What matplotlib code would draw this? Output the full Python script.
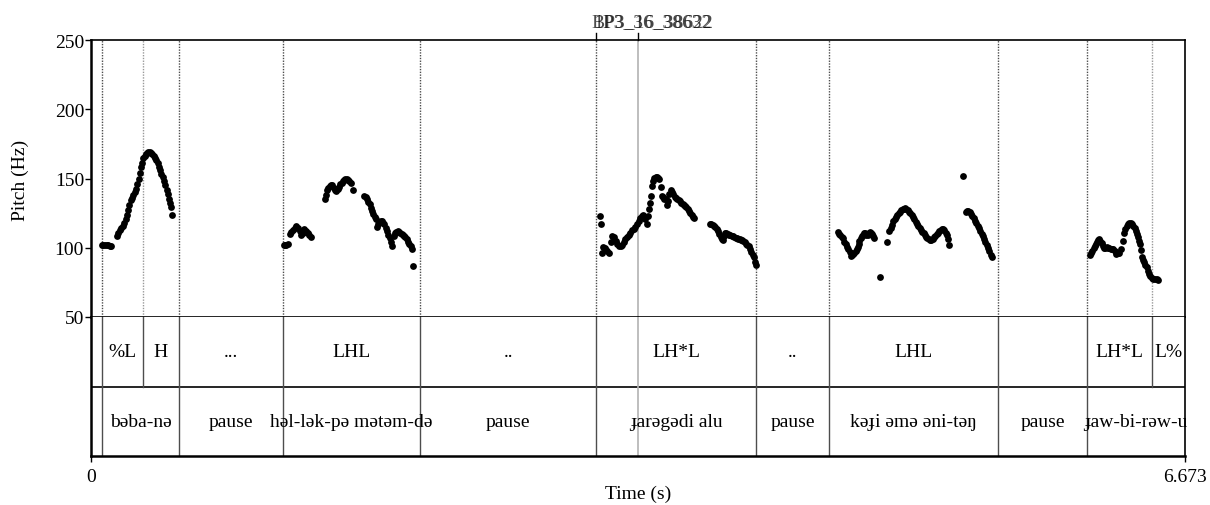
import matplotlib.pyplot as plt

plt.rcParams['font.family'] = ['Liberation Serif', 'DejaVu Serif']

t_end = 6.673

# pitch track (time in s, F0 in Hz), one pair per phrase
baba_t = [0.065, 0.075, 0.085, 0.095, 0.105, 0.115, 0.122,
          0.157, 0.165, 0.175, 0.185, 0.195, 0.203, 0.211, 0.218, 0.226, 0.234, 0.242,
          0.250, 0.258, 0.266, 0.274, 0.282, 0.290, 0.298, 0.306, 0.313, 0.320, 0.327,
          0.334, 0.342, 0.350, 0.358, 0.366, 0.374, 0.382, 0.390, 0.398, 0.406, 0.414,
          0.422, 0.430, 0.438, 0.446, 0.454, 0.462, 0.470, 0.477, 0.483, 0.488, 0.496]
baba_hz = [102, 102, 102, 102, 102, 101.5, 101.5,
           108.5, 111, 113, 114.5, 116, 118, 121, 124, 127, 131, 134.5,
           136, 138, 140, 142.5, 146, 150, 154, 158, 161.5, 164.5, 166.5,
           167.5, 168.5, 169, 169, 168.5, 167.5, 166.5, 165, 163, 161, 158.5,
           156, 153.5, 151, 148, 145, 142, 139, 135.5, 132.5, 129.5, 124]

hallak_t = [1.175, 1.183, 1.191, 1.199,
            1.212, 1.222, 1.232, 1.242, 1.252, 1.262, 1.272, 1.282, 1.292, 1.302, 1.312,
            1.322, 1.332, 1.340,
            1.425, 1.432, 1.440, 1.448, 1.456, 1.464, 1.472, 1.480, 1.488, 1.496, 1.504,
            1.512, 1.520, 1.528, 1.536, 1.544, 1.552, 1.560, 1.568, 1.576, 1.584, 1.598,
            1.667, 1.675, 1.683, 1.691, 1.699, 1.707, 1.715, 1.723, 1.731, 1.737,
            1.742, 1.750, 1.758, 1.766, 1.774, 1.782, 1.790, 1.798, 1.806, 1.814, 1.822,
            1.830, 1.838,
            1.846, 1.854, 1.862, 1.870, 1.878, 1.886, 1.894, 1.902, 1.910, 1.918, 1.926,
            1.934, 1.942, 1.950, 1.958, 1.966]
hallak_hz = [102, 102, 102, 102.5,
             110, 111.5, 113, 114.5, 116, 114, 112, 109, 111, 113.5, 112,
             110.5, 109, 107.5,
             135, 138, 141.5, 143.5, 144.5, 145.5, 145, 143.5, 142, 141.2, 142.5,
             144, 146, 147, 148.2, 149, 149.6, 149.6, 149, 148, 146.5, 141.7,
             137.6, 136.5, 135, 133, 131.5, 129, 126.5, 124.5, 122.5, 121,
             115.2, 117, 118.5, 119.5, 119, 118, 117, 114.5, 112, 109.5, 107,
             104, 101.5,
             108.7, 110.5, 111.5, 112, 111.5, 111, 110, 109.5, 108.7, 107.5, 106,
             104.5, 103, 101, 99, 87]

jaragadi_t = [3.105, 3.109,
              3.115, 3.125, 3.133, 3.141, 3.150, 3.160, 3.170, 3.180, 3.190, 3.200,
              3.210, 3.220, 3.230, 3.240, 3.250, 3.260, 3.270, 3.280, 3.290, 3.300,
              3.310, 3.320, 3.330, 3.340, 3.350, 3.360, 3.370, 3.380, 3.390, 3.398,
              3.404, 3.410, 3.414, 3.420, 3.428, 3.436, 3.444, 3.452, 3.460, 3.467,
              3.476, 3.482, 3.490, 3.498, 3.506, 3.514, 3.520, 3.528, 3.536, 3.544,
              3.552, 3.560, 3.568, 3.576, 3.584, 3.592, 3.600, 3.608, 3.616, 3.624,
              3.632, 3.640, 3.648, 3.656, 3.664, 3.672, 3.680,
              3.776, 3.784, 3.792, 3.800, 3.808, 3.816, 3.824, 3.832, 3.840, 3.848,
              3.854, 3.862, 3.868, 3.876, 3.884, 3.892, 3.900, 3.908, 3.916, 3.924,
              3.932, 3.940, 3.948, 3.956, 3.964, 3.972, 3.980, 3.988, 3.996, 4.004,
              4.012, 4.020, 4.028, 4.036, 4.044, 4.050, 4.054]
jaragadi_hz = [122.7, 117.2,
               96, 100.3, 100, 98.5, 97.5, 96.5, 104, 108.7, 107.5, 105,
               103, 101.5, 101, 102, 104, 106, 108, 109.5, 111, 112.5,
               113.5, 115, 117, 119.5, 121.5, 123, 123.6, 120.5, 117.2, 122.7,
               128, 132, 137.6, 144.8, 148.5, 150.5, 151, 151, 150.5, 149.6,
               143.6, 137.1, 136.5, 135.5, 135, 131, 134, 138.8, 141.9, 140.5,
               138.8, 137, 135.7, 135, 134.5, 133.5, 132.5, 131.6, 130.8, 130,
               129.3, 128, 126.3, 125, 123.5, 122.5, 121.3,
               117.2, 117, 116.5, 116, 115, 113.5, 112, 110, 108, 106.5,
               105.8, 108.5, 110.6, 110.3, 110, 109.5, 109, 108.7, 108.2, 107.8,
               107.3, 106.8, 106.3, 106, 105.7, 105.4, 104.7, 104, 103, 102,
               101, 99, 97, 95, 93, 90, 87.5]

kaji_t = [4.555, 4.563, 4.571, 4.579, 4.587, 4.595, 4.603, 4.611, 4.619, 4.627, 4.636,
          4.643, 4.650, 4.657, 4.664, 4.670, 4.677, 4.682, 4.687,
          4.694, 4.701, 4.709, 4.716, 4.723, 4.730, 4.738, 4.745, 4.752, 4.759, 4.766,
          4.772, 4.778,
          4.813, 4.854,
          4.870, 4.878, 4.886, 4.894, 4.902, 4.910, 4.918, 4.926, 4.934, 4.942, 4.950,
          4.958, 4.966, 4.974, 4.982, 4.990, 4.998, 5.006, 5.014, 5.022, 5.030, 5.038,
          5.046, 5.054, 5.062, 5.070, 5.078, 5.086, 5.094, 5.102, 5.110, 5.118, 5.126,
          5.134, 5.142, 5.150, 5.158, 5.166, 5.174, 5.182, 5.190, 5.198, 5.206, 5.214,
          5.220, 5.226, 5.233,
          5.321,
          5.336, 5.344, 5.352, 5.360, 5.368, 5.376, 5.384, 5.392, 5.400, 5.408, 5.416,
          5.424, 5.432, 5.440, 5.448, 5.456, 5.464, 5.472, 5.480, 5.488, 5.494]
kaji_hz = [111.2, 110, 109, 108, 106.8, 104.5, 102.7, 100.5, 99, 96.8, 94.3,
           94.8, 95.5, 96.5, 97.9, 99, 100.3, 102.5, 105.1,
           107, 108.3, 109.5, 110.6, 110.5, 109.5, 109.2, 110.5, 111.6, 110.8, 109.9,
           108.5, 106.8,
           78.7, 103.9,
           112.3, 114.5, 116.5, 119, 120.5, 122, 123.5, 124.8, 126, 127, 127.8,
           128.3, 128.5, 128, 127.2, 126, 124.8, 123.6, 122, 120.5, 118.8, 117.3,
           116, 114.5, 113, 111.6, 110.3, 109, 107.8, 106.8, 106.3, 105.9, 105.8,
           106.5, 107.5, 108.6, 109.8, 111, 112.2, 113, 113.5, 113.2, 112.5, 111,
           109, 106, 102,
           151.6,
           125.6, 126.5, 126.8, 125.8, 124.5, 122.8, 121.2, 119.5, 117.7, 116, 114.2,
           112, 110.2, 108.5, 106.5, 104.5, 102.3, 100, 97.5, 95, 93.1]

jaw_t = [6.094, 6.101, 6.108, 6.115, 6.122, 6.129, 6.136, 6.143, 6.150, 6.157, 6.165,
         6.172, 6.179, 6.187, 6.195, 6.203, 6.211, 6.219, 6.227, 6.236, 6.244, 6.252,
         6.262, 6.272,
         6.284, 6.297, 6.301,
         6.310, 6.318, 6.326, 6.334, 6.342, 6.350, 6.358, 6.366, 6.374, 6.380, 6.386,
         6.392, 6.398, 6.403,
         6.409, 6.416, 6.423, 6.431, 6.440, 6.447, 6.455, 6.462, 6.470, 6.480, 6.490,
         6.500, 6.510]
jaw_hz = [94.8, 96.5, 97.9, 99.5, 101.5, 103, 104, 105.5, 106.3, 105, 103.4,
          101.5, 99.6, 99.8, 100.3, 100, 99.5, 99.3, 99.1, 99.1, 97.5, 95.5,
          96, 96.2,
          99.1, 105.1, 110.6,
          113.5, 115.9, 117.2, 117.9, 117.8, 117.2, 115.9, 114.5, 112.3, 110, 107.5,
          105, 102.7, 98.6,
          93.1, 91.5, 89.5, 87.7, 85.9, 83.5, 81, 79.5, 77.9, 77.6, 77.4,
          77.1, 76.9]

# TextGrid tiers
tone_bounds = [0, 0.065, 0.315, 0.539, 1.171, 2.007, 3.083, 4.056, 4.502, 5.531, 6.077, 6.474, 6.673]
tone_labels = ["", "%L", "H", "...", "LHL", "..", "LH*L", "..", "LHL", "", "LH*L", "L%"]
word_bounds = [0, 0.065, 0.539, 1.171, 2.007, 3.083, 4.056, 4.502, 5.531, 6.077, 6.673]
word_labels = ["", "bəba-nə", "pause", "həl-lək-pə mətəm-də", "pause", "ɟarəgədi alu",
               "pause", "kəɟi əmə əni-təŋ", "pause", "ɟaw-bi-rəw-u"]
cursor_t = 3.335
mark_t = 3.083
top_labels = ["BP3_16_38622", "1P3_36_38632"]

pitch_t = baba_t + hallak_t + jaragadi_t + kaji_t + jaw_t
pitch_hz = baba_hz + hallak_hz + jaragadi_hz + kaji_hz + jaw_hz

W, H = 1210, 506
fig = plt.figure(figsize=(W / 100, H / 100), dpi=100)
L, R = 91, 1185
top, mid, bottom = 41, 318, 457
fs = 14

ax = fig.add_axes([L / W, 1 - mid / H, (R - L) / W, (mid - top) / H])
axt = fig.add_axes([L / W, 1 - bottom / H, (R - L) / W, (bottom - mid) / H])

# pitch panel
ax.set_xlim(0, t_end)
ax.set_ylim(50, 250)
ax.set_yticks([50, 100, 150, 200, 250])
ax.tick_params(axis='y', direction='out', length=4, width=1, pad=1, labelsize=fs)
ax.set_xticks([])

shared = set(tone_bounds) & set(word_bounds)
for b in tone_bounds[1:-1]:
    c = '0.3' if b in shared else '0.6'
    ax.axvline(b, color=c, lw=1, ls=(0, (1, 1)), zorder=1)
for b in word_bounds[1:-1]:
    if b not in shared:
        ax.axvline(b, color='0.6', lw=1, ls=(0, (1, 1)), zorder=1)
ax.axvline(cursor_t, color='0.7', lw=1.2, zorder=1)

ax.plot(pitch_t, pitch_hz, 'o', color='black', ms=4.9, mew=0, zorder=3)

# little ticks above the top edge
tr = ax.get_xaxis_transform()
for x in [mark_t, cursor_t]:
    ax.plot([x, x], [1, 1 + 7 / (mid - top)], color='black', lw=1, transform=tr, clip_on=False)
for s in top_labels:
    fig.text(652 / W, 1 - 23 / H, s, ha='center', va='center', fontsize=fs, alpha=0.7)

for sp in ax.spines.values():
    sp.set_linewidth(1.2)
ax.spines['left'].set_linewidth(1.8)

# tiers panel
axt.set_xlim(0, t_end)
axt.set_ylim(0, 2)
axt.set_yticks([])
axt.set_xticks([0, t_end])
axt.set_xticklabels(['0', '6.673'])
axt.tick_params(axis='x', direction='out', length=4, width=1, pad=5, labelsize=fs)
axt.axhline(1, color='black', lw=1.2)

for b in tone_bounds[1:-1]:
    axt.plot([b, b], [1, 2], color='0.3', lw=1)
for b in word_bounds[1:-1]:
    axt.plot([b, b], [0, 1], color='0.3', lw=1)
axt.axvline(cursor_t, color='0.7', lw=1.2)

for i, lab in enumerate(tone_labels):
    if lab:
        axt.text((tone_bounds[i] + tone_bounds[i + 1]) / 2, 1.5, lab, ha='center', va='center', fontsize=fs)
for i, lab in enumerate(word_labels):
    if lab:
        axt.text((word_bounds[i] + word_bounds[i + 1]) / 2, 0.5, lab, ha='center', va='center', fontsize=fs)

for sp in axt.spines.values():
    sp.set_linewidth(1.2)
axt.spines['left'].set_linewidth(1.8)
axt.spines['bottom'].set_linewidth(1.8)
axt.spines['top'].set_visible(False)

fig.text(20 / W, 1 - 180 / H, 'Pitch (Hz)', rotation=90, ha='center', va='center', fontsize=fs)
fig.text(638 / W, 1 - 494 / H, 'Time (s)', ha='center', va='center', fontsize=fs)

fig.savefig('out.png', dpi=100)
